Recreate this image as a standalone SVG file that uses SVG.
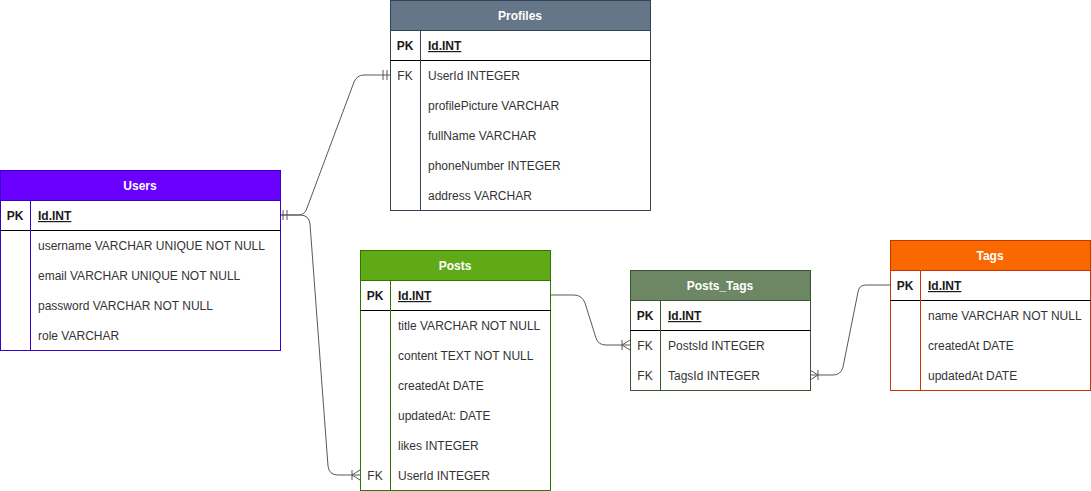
<svg xmlns="http://www.w3.org/2000/svg" width="1091" height="491" viewBox="0 0 1091 491">
<style>
text{font-family:"Liberation Sans",Arial,sans-serif;font-size:12px;fill:#333333}
.h{font-weight:bold;fill:#ffffff;text-anchor:middle}
.k{text-anchor:middle}
.pk{font-weight:bold;fill:#1a1a1a}
.id{font-weight:bold;text-decoration:underline;fill:#1a1a1a}
.c{fill:none;stroke:#5f5459;stroke-width:1}
.line{stroke:#000000;stroke-width:1}
</style>
<rect width="1091" height="491" fill="#ffffff"/>
<g id="connectors">
<path class="c" d="M280,215 L298,215 Q305,215 307,208 L354,82 Q357,75 364,75 L390,75"/>
<path class="c" d="M283,210 V220 M287,210 V220 M383,70 V80 M387,70 V80"/>
<path class="c" d="M280,215 L300,215 Q309,215 310,224 L328,466 Q329,475 338,475 L360,475"/>
<path class="c" d="M352,470 V480 M352,475 L360,470 M352,475 L360,480"/>
<path class="c" d="M550,295 L574,295 Q582,295 585,303 L596,338 Q598,345 606,345 L630,345"/>
<path class="c" d="M622,340 V350 M622,345 L630,340 M622,345 L630,350"/>
<path class="c" d="M890,285 L866,285 Q859,285 858,292 L843,367 Q841,375 833,375 L810,375"/>
<path class="c" d="M818,370 V380 M818,375 L810,370 M818,375 L810,380"/>
</g>
<g id="users">
<rect x="0.5" y="170.5" width="280" height="180" fill="#ffffff" stroke="#3700CC"/>
<rect x="0.5" y="170.5" width="280" height="30" fill="#6a00ff" stroke="#3700CC"/>
<line x1="0.5" y1="230.5" x2="280.5" y2="230.5" class="line"/>
<line x1="30.5" y1="200.5" x2="30.5" y2="350.5" stroke="#3700CC"/>
<text x="140" y="190" class="h">Users</text>
<text x="15" y="220" class="k pk">PK</text>
<text x="38" y="220" class="id">Id.INT</text>
<text x="38" y="250">username VARCHAR UNIQUE NOT NULL</text>
<text x="38" y="280">email VARCHAR UNIQUE NOT NULL</text>
<text x="38" y="310">password VARCHAR NOT NULL</text>
<text x="38" y="340">role VARCHAR</text>
</g>
<g id="profiles">
<rect x="390.5" y="0.5" width="260" height="210" fill="#ffffff" stroke="#314354"/>
<rect x="390.5" y="0.5" width="260" height="30" fill="#647687" stroke="#314354"/>
<line x1="390.5" y1="60.5" x2="650.5" y2="60.5" class="line"/>
<line x1="420.5" y1="30.5" x2="420.5" y2="210.5" stroke="#314354"/>
<text x="520" y="20" class="h">Profiles</text>
<text x="405" y="50" class="k pk">PK</text>
<text x="428" y="50" class="id">Id.INT</text>
<text x="405" y="80" class="k">FK</text>
<text x="428" y="80">UserId INTEGER</text>
<text x="428" y="110">profilePicture VARCHAR</text>
<text x="428" y="140">fullName VARCHAR</text>
<text x="428" y="170">phoneNumber INTEGER</text>
<text x="428" y="200">address VARCHAR</text>
</g>
<g id="posts">
<rect x="360.5" y="250.5" width="190" height="240" fill="#ffffff" stroke="#2D7600"/>
<rect x="360.5" y="250.5" width="190" height="30" fill="#60a917" stroke="#2D7600"/>
<line x1="360.5" y1="310.5" x2="550.5" y2="310.5" class="line"/>
<line x1="390.5" y1="280.5" x2="390.5" y2="490.5" stroke="#2D7600"/>
<text x="455" y="270" class="h">Posts</text>
<text x="375" y="300" class="k pk">PK</text>
<text x="398" y="300" class="id">Id.INT</text>
<text x="398" y="330">title VARCHAR NOT NULL</text>
<text x="398" y="360">content TEXT NOT NULL</text>
<text x="398" y="390">createdAt DATE</text>
<text x="398" y="420">updatedAt: DATE</text>
<text x="398" y="450">likes INTEGER</text>
<text x="375" y="480" class="k">FK</text>
<text x="398" y="480">UserId INTEGER</text>
</g>
<g id="posts_tags">
<rect x="630.5" y="270.5" width="180" height="120" fill="#ffffff" stroke="#3A5431"/>
<rect x="630.5" y="270.5" width="180" height="30" fill="#6d8764" stroke="#3A5431"/>
<line x1="630.5" y1="330.5" x2="810.5" y2="330.5" class="line"/>
<line x1="660.5" y1="300.5" x2="660.5" y2="390.5" stroke="#3A5431"/>
<text x="720" y="290" class="h">Posts_Tags</text>
<text x="645" y="320" class="k pk">PK</text>
<text x="668" y="320" class="id">Id.INT</text>
<text x="645" y="350" class="k">FK</text>
<text x="668" y="350">PostsId INTEGER</text>
<text x="645" y="380" class="k">FK</text>
<text x="668" y="380">TagsId INTEGER</text>
</g>
<g id="tags">
<rect x="890.5" y="240.5" width="200" height="150" fill="#ffffff" stroke="#C73500"/>
<rect x="890.5" y="240.5" width="200" height="30" fill="#fa6800" stroke="#C73500"/>
<line x1="890.5" y1="300.5" x2="1090.5" y2="300.5" class="line"/>
<line x1="920.5" y1="270.5" x2="920.5" y2="390.5" stroke="#C73500"/>
<text x="990" y="260" class="h">Tags</text>
<text x="905" y="290" class="k pk">PK</text>
<text x="928" y="290" class="id">Id.INT</text>
<text x="928" y="320">name VARCHAR NOT NULL</text>
<text x="928" y="350">createdAt DATE</text>
<text x="928" y="380">updatedAt DATE</text>
</g>
</svg>
